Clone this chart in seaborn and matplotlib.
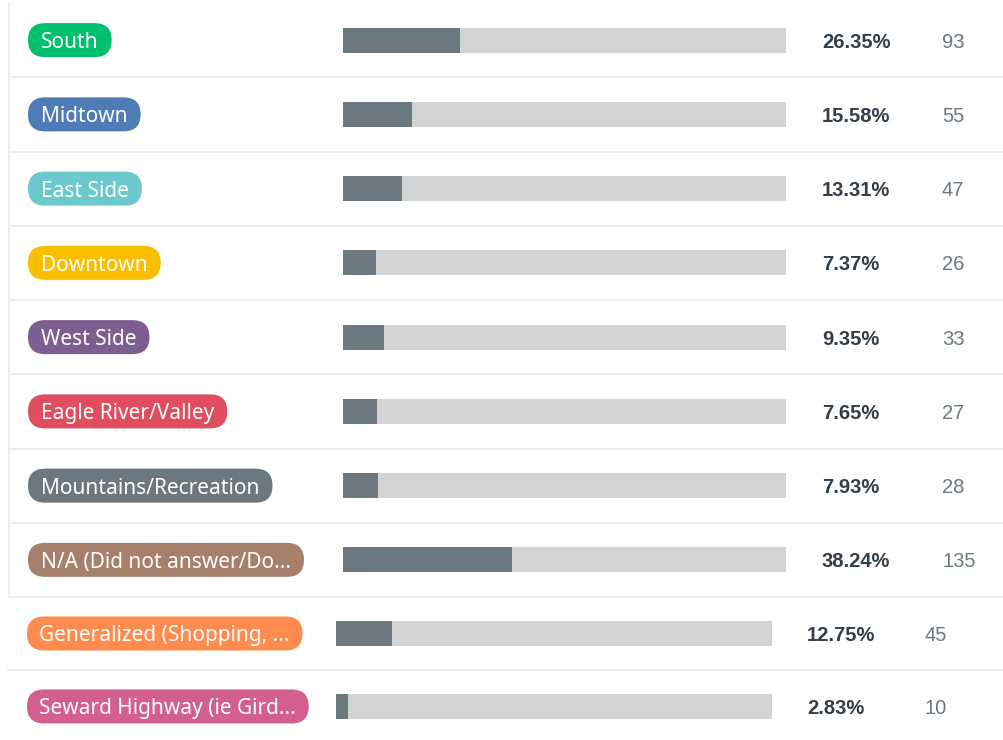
import matplotlib
matplotlib.use('Agg')
import matplotlib.pyplot as plt
from matplotlib.patches import FancyBboxPatch
from matplotlib.lines import Line2D
from matplotlib.transforms import blended_transform_factory
import pandas as pd
import seaborn as sns

# answer choices, split the way the screenshot is (8 rows + 2 appended rows)
top_labels = ['South', 'Midtown', 'East Side', 'Downtown', 'West Side',
              'Eagle River/Valley', 'Mountains/Recreation', 'N/A (Did not answer/Do...']
top_pcts = [26.35, 15.58, 13.31, 7.37, 9.35, 7.65, 7.93, 38.24]
top_counts = [93, 55, 47, 26, 33, 27, 28, 135]
top_colors = ['#00bf6f', '#507cb6', '#6bc8cd', '#f9be00', '#7d5e90',
              '#e04d5f', '#6b787f', '#a6806a']

bot_labels = ['Generalized (Shopping, ...', 'Seward Highway (ie Gird...']
bot_pcts = [12.75, 2.83]
bot_counts = [45, 10]
bot_colors = ['#ff8b4f', '#d35f90']

BAR_BG = '#d1d3d4'
BAR_FG = '#6b787f'
LINE = '#ededed'
W, H = 1004, 740

sns.set_style('white')
plt.rcParams['font.family'] = ['Noto Sans', 'DejaVu Sans']

fig = plt.figure(figsize=(W / 100, H / 100), dpi=100)


def px_axes(x0, x1, y_top, y_bot):
    """Axes placed by pixel box (y measured from the top)."""
    return fig.add_axes([x0 / W, (H - y_bot) / H, (x1 - x0) / W, (y_bot - y_top) / H])


def draw_block(ax, labels, pcts, counts, colors, ylim, pill_x, txt_x, pct_x, cnt_x, line_x):
    df = pd.DataFrame({'label': labels, 'pct': pcts, 'total': [100] * len(labels)})
    sns.barplot(data=df, x='total', y='label', color=BAR_BG, width=0.34,
                saturation=1, ax=ax, orient='h', linewidth=0)
    sns.barplot(data=df, x='pct', y='label', color=BAR_FG, width=0.34,
                saturation=1, ax=ax, orient='h', linewidth=0)
    ax.set_xlim(0, 100)
    ax.set_ylim(*ylim)
    ax.axis('off')

    tr = blended_transform_factory(fig.transFigure, ax.transData)
    renderer = fig.canvas.get_renderer()
    for i, (lab, p, c, col) in enumerate(zip(labels, pcts, counts, colors)):
        t = fig.text(txt_x / W, i, lab, transform=tr, va='center_baseline', ha='left',
                     color='white', fontsize=15, zorder=3)
        fig.text(pct_x / W, i, f'{p:.2f}%', transform=tr, va='center_baseline',
                 ha='left', color='#333e48', fontsize=14.5, fontweight='bold',
                 family='Liberation Sans', zorder=3)
        fig.text(cnt_x / W, i, str(c), transform=tr, va='center_baseline', ha='left',
                 color='#6b787f', fontsize=14.5, family='Liberation Sans', zorder=3)
        bb = t.get_window_extent(renderer=renderer)
        yc = ax.transData.transform((0, i))[1]
        pill = FancyBboxPatch((pill_x, yc - 17), bb.x1 + 13 - pill_x, 34,
                              boxstyle='round,pad=0,rounding_size=17',
                              facecolor=col, edgecolor='none', zorder=2,
                              transform=None)
        fig.add_artist(pill)
        # row separator under each row
        fig.add_artist(Line2D([line_x / W, 1], [i + 0.5, i + 0.5], transform=tr,
                              color=LINE, lw=1.5, zorder=1))


ax_top = px_axes(343, 786, 3, 597)
draw_block(ax_top, top_labels, top_pcts, top_counts, top_colors, (7.5, -0.5),
           pill_x=28, txt_x=41, pct_x=822, cnt_x=942, line_x=9)
# left border of the original table
fig.add_artist(Line2D([9 / W, 9 / W], [0, 1], transform=blended_transform_factory(
    fig.transFigure, ax_top.transAxes), color=LINE, lw=1.5, zorder=1))

ax_bot = px_axes(336, 772, 597, 740)
draw_block(ax_bot, bot_labels, bot_pcts, bot_counts, bot_colors, (1.46, -0.5),
           pill_x=27, txt_x=39, pct_x=807, cnt_x=925, line_x=8)

fig.savefig('out.png', dpi=100, facecolor='white')
